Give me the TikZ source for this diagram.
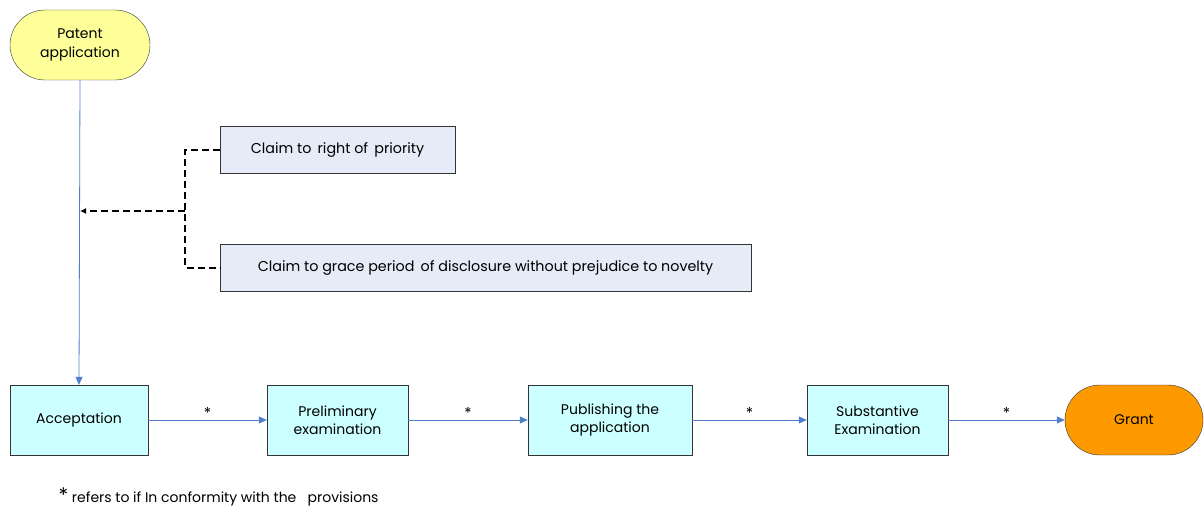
\documentclass[tikz,border=0pt]{standalone}
\usepackage{fontspec}
\setmainfont{Poppins}
\usepackage{xcolor}
\usetikzlibrary{arrows.meta}
\definecolor{flowblue}{HTML}{4F7FCB}
\definecolor{stepcyan}{HTML}{CCFFFF}
\definecolor{claimgray}{HTML}{E6ECF7}
\definecolor{startyellow}{HTML}{FFFF99}
\definecolor{grantorange}{HTML}{FF9900}
\tikzset{
  stepbox/.style={draw=black!80, fill=stepcyan, minimum width=140pt, minimum height=70pt,
    align=center, font=\fontsize{14}{18}\selectfont},
  claimbox/.style={draw=black!80, fill=claimgray, minimum height=47pt,
    font=\fontsize{14.3}{16}\selectfont},
  terminal/.style={draw=black!80, rounded corners=35pt, minimum width=140pt, minimum height=70pt,
    align=center, font=\fontsize{14}{19}\selectfont},
  flow/.style={draw=flowblue, line width=0.8pt, -{Triangle[width=7pt,length=8pt]}},
  claimline/.style={line width=2pt, dash pattern=on 7pt off 4pt},
  starlabel/.style={above=-2pt, font=\fontsize{15}{15}\selectfont},
}
\begin{document}
\begin{tikzpicture}[x=1pt,y=-1pt]
        \useasboundingbox (0,0) rectangle (1204,508);
        \node[terminal, fill=startyellow] (patent) at (80,45) {Patent\\application};
        \node[claimbox, minimum width=235pt] (priority) at (337.5,150) {Claim to\, right of\, priority};
        \node[claimbox, minimum width=531pt] (grace) at (485.5,267.5) {Claim to grace period\, of disclosure without prejudice to novelty};
        \node[stepbox, minimum width=138pt] (accept) at (79,420) {Acceptation};
        \node[stepbox, minimum width=141pt] (prelim) at (337.5,420) {Preliminary\\examination};
        \node[stepbox, minimum width=164pt] (publish) at (610,420) {Publishing the\\application};
        \node[stepbox, minimum width=141pt] (subst) at (877.5,420) {Substantive\\Examination};
        \node[terminal, fill=grantorange, minimum width=138pt] (grant) at (1134,420) {Grant};
        \coordinate (join) at (185,211);
        \coordinate (entry) at (80,211);
        % main line
        \draw[flow] (patent.south) -- (accept.north);
        \draw[flow] (accept) -- node[starlabel]{*} (prelim);
        \draw[flow] (prelim) -- node[starlabel]{*} (publish);
        \draw[flow] (publish) -- node[starlabel]{*} (subst);
        \draw[flow] (subst) -- node[starlabel]{*} (grant);
        % claims
        \draw[claimline] (priority.west) -| (join) |- (grace.west);
        \draw[claimline, -{Latex[length=6pt,width=6pt]}] (join) -- (entry);
        \node[anchor=west, font=\fontsize{14}{16}\selectfont] (note) at (55,497) {{\fontsize{20}{20}\selectfont*} refers to if In conformity with the \ \ provisions};
    \end{tikzpicture}
\end{document}
